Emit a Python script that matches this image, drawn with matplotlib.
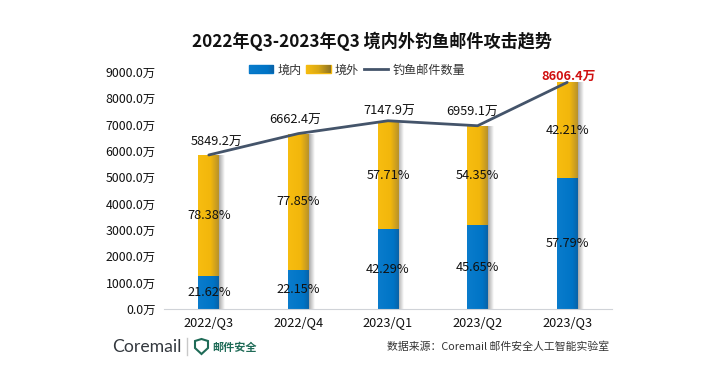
import numpy as np
import matplotlib
matplotlib.use('Agg')
import matplotlib.pyplot as plt
from matplotlib.colors import LinearSegmentedColormap
from matplotlib.lines import Line2D
from matplotlib.patches import Patch, Polygon

plt.rcParams['font.family'] = ['Noto Sans CJK SC', 'DejaVu Sans']

quarters = ['2022/Q3', '2022/Q4', '2023/Q1', '2023/Q2', '2023/Q3']
totals = [5849.2, 6662.4, 7147.9, 6959.1, 8606.4]
domestic_pct = [21.62, 22.15, 42.29, 45.65, 57.79]
foreign_pct = [78.38, 77.85, 57.71, 54.35, 42.21]
yticks = [0, 1000, 2000, 3000, 4000, 5000, 6000, 7000, 8000, 9000]

# pixel nudges for the total labels, they are not centred over the bars
label_dx = [8, -3, 1, -6, 1]
label_dy = [6, 7, 3, 7, -1]

W, H = 717, 388
BAR_W = 0.23

blue_cmap = LinearSegmentedColormap.from_list('b', [(0, '#0a7ccc'), (0.75, '#0074c6'), (1, '#0a62a6')])
gold_cmap = LinearSegmentedColormap.from_list('g', [(0, '#f7bd10'), (0.6, '#f2b70c'), (1, '#b8922a')])
gold_swatch = LinearSegmentedColormap.from_list('gs', ['#f7bd10', '#d9a815', '#8f7424'])
shadow_cmap = LinearSegmentedColormap.from_list('s', ['#a8a8a8', '#ffffff'])
grad = np.linspace(0, 1, 64).reshape(1, -1)


def fill_gradient(ax, bars, cmap):
    for bar in bars:
        x, y = bar.get_x(), bar.get_y()
        im = ax.imshow(grad, cmap=cmap, aspect='auto', zorder=bar.get_zorder(),
                       extent=(x, x + bar.get_width(), y, y + bar.get_height()))
        im.set_clip_path(bar)


fig = plt.figure(figsize=(W / 100, H / 100), dpi=100, facecolor='white')
ax = fig.add_axes([164 / W, 1 - 309 / H, 448 / W, 237 / H])

x = np.arange(len(quarters))
totals_arr = np.array(totals)
domestic = totals_arr * np.array(domestic_pct) / 100
foreign = totals_arr * np.array(foreign_pct) / 100

shadow = ax.bar(x + BAR_W / 2 + 0.03, totals_arr, 0.06, color='none', zorder=1)
fill_gradient(ax, shadow, shadow_cmap)
b1 = ax.bar(x, domestic, BAR_W, color='#0074c6', zorder=2)
b2 = ax.bar(x, foreign, BAR_W, bottom=domestic, color='#f2b70c', zorder=2)
fill_gradient(ax, b1, blue_cmap)
fill_gradient(ax, b2, gold_cmap)
line, = ax.plot(x, totals_arr, color='#44546a', lw=2, zorder=3, solid_capstyle='round')

ax.set_xlim(-0.5, 4.5)
ax.set_ylim(0, 9000)
ax.set_xticks(x, quarters)
ax.set_yticks(yticks, [f'{v:.1f}万' for v in yticks])
ax.tick_params(length=0, colors='#111111')
ax.tick_params(axis='x', pad=5, labelsize=9.2)
ax.tick_params(axis='y', pad=6, labelsize=8.9)
for side in ['top', 'right', 'left']:
    ax.spines[side].set_visible(False)
ax.spines['bottom'].set_color('#d0d3d8')

for i in range(len(quarters)):
    ax.text(i, domestic[i] * 0.5, f'{domestic_pct[i]}%', ha='center', va='center',
            fontsize=9.2, color='#111111', zorder=4)
    ax.text(i, domestic[i] + foreign[i] * 0.5, f'{foreign_pct[i]}%', ha='center', va='center',
            fontsize=9.2, color='#111111', zorder=4)
    is_last = i == len(quarters) - 1
    ax.annotate(f'{totals[i]}万', (i, totals[i]), xytext=(label_dx[i] * 0.72, label_dy[i] * 0.72),
                textcoords='offset points', ha='center', va='bottom', fontsize=9.2, zorder=4,
                color='#d00f0f' if is_last else '#111111', fontweight='bold' if is_last else 'normal')

handles = [Patch(color='#0074c6', label='境内'), Patch(color='#f2b70c', label='境外'),
           Line2D([0], [0], color='#44546a', lw=2, label='钓鱼邮件数量')]
leg = fig.legend(handles=handles, loc='center', bbox_to_anchor=(357 / W, 1 - 70 / H), ncol=3, frameon=False,
                 fontsize=8.7, handlelength=2.0, handleheight=0.6, columnspacing=0.4, handletextpad=0.35,
                 labelcolor='#333333')

# legend swatches get a gradient too, the gold one runs darker than the bars
fig.canvas.draw()
for patch, cmap in zip(leg.get_patches(), [blue_cmap, gold_swatch]):
    bb = patch.get_window_extent()
    sw = fig.add_axes([bb.x0 / W, bb.y0 / H, bb.width / W, bb.height / H], zorder=6)
    sw.imshow(grad, cmap=cmap, aspect='auto')
    sw.axis('off')

fig.text(372 / W, 1 - 41 / H, '2022年Q3-2023年Q3 境内外钓鱼邮件攻击趋势', ha='center', va='center',
         fontsize=12.3, fontweight='bold', color='#111111')

# footer with logo and source
fig.text(112 / W, 1 - 347 / H, 'Coremail', ha='left', va='center', fontsize=12.7,
         family=['Lato', 'DejaVu Sans'], color='#33383e')
fig.add_artist(Line2D([187 / W, 187 / W], [1 - 338 / H, 1 - 355 / H], color='#c8c8c8', lw=1))
shield = [(195, 341), (201.5, 339), (208, 341), (208, 348), (201.5, 354), (195, 348)]
fig.add_artist(Polygon([(a / W, 1 - b / H) for a, b in shield], closed=True, fill=False,
                       edgecolor='#1f6b57', lw=1.5, transform=fig.transFigure))
fig.text(212 / W, 1 - 347 / H, '邮件安全', ha='left', va='center', fontsize=8, fontweight='bold', color='#1f6b57')
fig.text(609 / W, 1 - 347 / H, '数据来源：Coremail 邮件安全人工智能实验室', ha='right', va='center',
         fontsize=7.8, color='#333333')

fig.savefig('out.png', dpi=100)
